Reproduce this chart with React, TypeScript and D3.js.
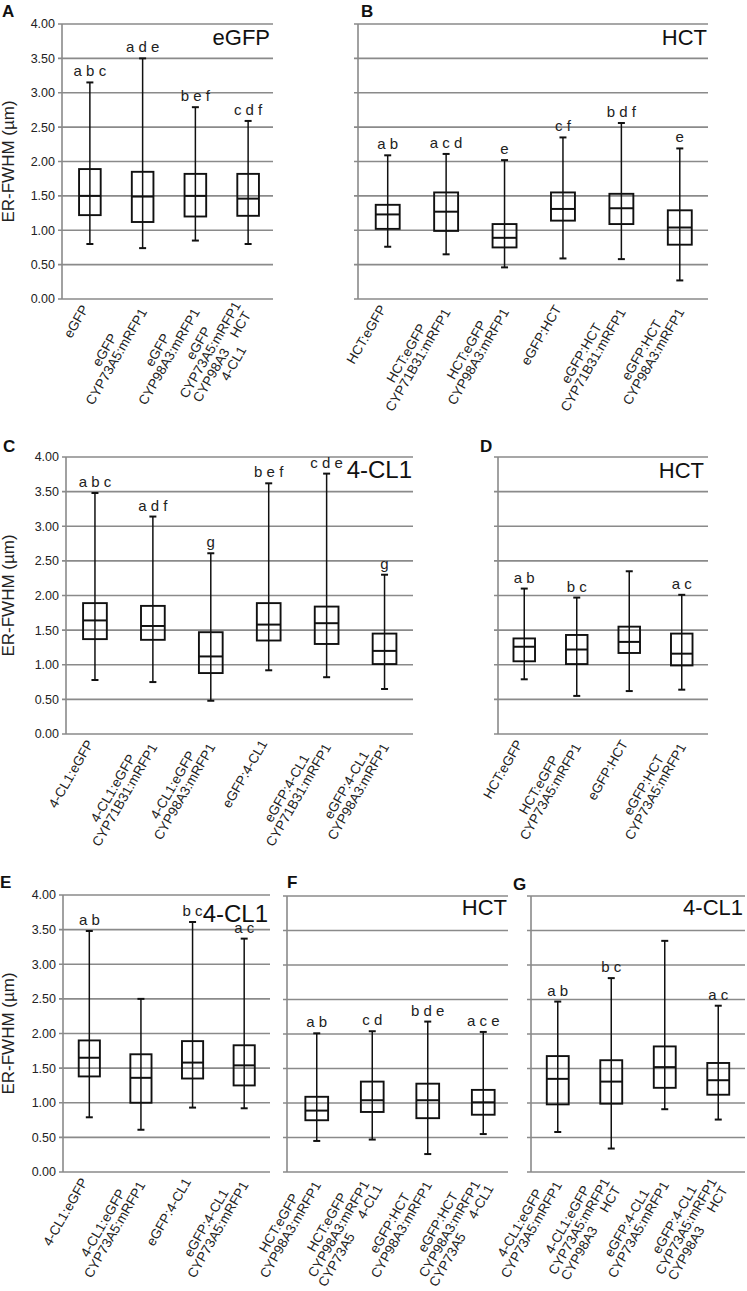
import React from "react";
import * as d3 from "d3";

// ---------------- DATA ----------------
const A_categories = ["eGFP", "eGFP\nCYP73A5:mRFP1", "eGFP\nCYP98A3:mRFP1", "eGFP\nCYP73A5:mRFP1\nCYP98A3    HCT\n4-CL1"];
const A_high = [3.15, 3.5, 2.79, 2.59];
const A_q3 = [1.89, 1.85, 1.82, 1.82];
const A_median = [1.5, 1.49, 1.5, 1.46];
const A_q1 = [1.22, 1.12, 1.2, 1.21];
const A_low = [0.8, 0.74, 0.85, 0.8];
const A_letters = ["a b c", "a d e", "b e f", "c d f"];

const B_categories = ["HCT:eGFP", "HCT:eGFP\nCYP71B31:mRFP1", "HCT:eGFP\nCYP98A3:mRFP1", "eGFP:HCT", "eGFP:HCT\nCYP71B31:mRFP1", "eGFP:HCT\nCYP98A3:mRFP1"];
const B_high = [2.09, 2.11, 2.02, 2.35, 2.56, 2.19];
const B_q3 = [1.37, 1.55, 1.09, 1.55, 1.53, 1.29];
const B_median = [1.23, 1.27, 0.89, 1.31, 1.32, 1.04];
const B_q1 = [1.02, 0.99, 0.75, 1.14, 1.09, 0.79];
const B_low = [0.76, 0.65, 0.46, 0.59, 0.58, 0.27];
const B_letters = ["a b", "a c d", "e", "c f", "b d f", "e"];

const C_categories = ["4-CL1:eGFP", "4-CL1:eGFP\nCYP71B31:mRFP1", "4-CL1:eGFP\nCYP98A3:mRFP1", "eGFP:4-CL1", "eGFP:4-CL1\nCYP71B31:mRFP1", "eGFP:4-CL1\nCYP98A3:mRFP1"];
const C_high = [3.48, 3.14, 2.61, 3.62, 3.76, 2.3];
const C_q3 = [1.89, 1.85, 1.47, 1.89, 1.84, 1.45];
const C_median = [1.64, 1.56, 1.12, 1.58, 1.6, 1.2];
const C_q1 = [1.37, 1.36, 0.88, 1.35, 1.3, 1.01];
const C_low = [0.78, 0.75, 0.48, 0.92, 0.82, 0.65];
const C_letters = ["a b c", "a d f", "g", "b e f", "c d e", "g"];

const D_categories = ["HCT:eGFP", "HCT:eGFP\nCYP73A5:mRFP1", "eGFP:HCT", "eGFP:HCT\nCYP73A5:mRFP1"];
const D_high = [2.1, 1.97, 2.35, 2.01];
const D_q3 = [1.38, 1.43, 1.55, 1.45];
const D_median = [1.26, 1.22, 1.33, 1.16];
const D_q1 = [1.05, 1.01, 1.17, 0.99];
const D_low = [0.79, 0.55, 0.62, 0.64];
const D_letters = ["a b", "b c", "", "a c"];

const E_categories = ["4-CL1:eGFP", "4-CL1:eGFP\nCYP73A5:mRFP1", "eGFP:4-CL1", "eGFP:4-CL1\nCYP73A5:mRFP1"];
const E_high = [3.48, 2.5, 3.61, 3.37];
const E_q3 = [1.9, 1.7, 1.89, 1.83];
const E_median = [1.65, 1.36, 1.58, 1.54];
const E_q1 = [1.38, 1.0, 1.35, 1.25];
const E_low = [0.79, 0.61, 0.93, 0.92];
const E_letters = ["a b", "", "b c", "a c"];

const F_categories = ["HCT:eGFP\nCYP98A3:mRFP1", "HCT:eGFP\nCYP98A3:mRFP1\nCYP73A5     4-CL1", "eGFP:HCT\nCYP98A3:mRFP1", "eGFP:HCT\nCYP98A3:mRFP1\nCYP73A5     4-CL1"];
const F_high = [2.01, 2.04, 2.18, 2.03];
const F_q3 = [1.09, 1.31, 1.28, 1.19];
const F_median = [0.89, 1.04, 1.04, 1.01];
const F_q1 = [0.75, 0.87, 0.78, 0.83];
const F_low = [0.45, 0.47, 0.26, 0.55];
const F_letters = ["a b", "c d", "b d e", "a c e"];

const G_categories = ["4-CL1:eGFP\nCYP73A5:mRFP1", "4-CL1:eGFP\nCYP73A5:mRFP1\nCYP98A3     HCT", "eGFP:4-CL1\nCYP73A5:mRFP1", "eGFP:4-CL1\nCYP73A5:mRFP1\nCYP98A3     HCT"];
const G_high = [2.47, 2.81, 3.35, 2.41];
const G_q3 = [1.68, 1.62, 1.82, 1.58];
const G_median = [1.35, 1.31, 1.52, 1.33];
const G_q1 = [0.98, 0.99, 1.22, 1.12];
const G_low = [0.58, 0.34, 0.91, 0.76];
const G_letters = ["a b", "b c", "", "a c"];

const yTicks = [0, 0.5, 1, 1.5, 2, 2.5, 3, 3.5, 4];
const yLabel = "ER-FWHM (µm)";

// ---------------- LAYOUT ----------------
const FONT = '"Liberation Sans", Arial, Helvetica, sans-serif';
const GRID = "#8a8a8a";

type Panel = {
  letter: string; title: string; cats: string[]; high: number[]; q3: number[]; med: number[]; q1: number[]; low: number[]; letters: string[];
  axisX: number; bandL: number; bandR: number; gridR: number; yTop: number; yBot: number;
  letterX: number; letterY: number; titleSize: number; titleX: number; titleY: number; showTicks: boolean;
};

const panels: Panel[] = [
  { letter: "A", title: "eGFP", cats: A_categories, high: A_high, q3: A_q3, med: A_median, q1: A_q1, low: A_low, letters: A_letters,
    axisX: 62, bandL: 63.5, bandR: 274.5, gridR: 273, yTop: 24, yBot: 299, letterX: 2, letterY: 17, titleSize: 22, titleX: 270, titleY: 45, showTicks: true },
  { letter: "B", title: "HCT", cats: B_categories, high: B_high, q3: B_q3, med: B_median, q1: B_q1, low: B_low, letters: B_letters,
    axisX: 358, bandL: 358.5, bandR: 709, gridR: 708, yTop: 24, yBot: 299, letterX: 361, letterY: 17, titleSize: 22, titleX: 707, titleY: 45, showTicks: false },
  { letter: "C", title: "4-CL1", cats: C_categories, high: C_high, q3: C_q3, med: C_median, q1: C_q1, low: C_low, letters: C_letters,
    axisX: 66, bandL: 66, bandR: 413.5, gridR: 413, yTop: 457, yBot: 734, letterX: 3, letterY: 452, titleSize: 24, titleX: 412, titleY: 478, showTicks: true },
  { letter: "D", title: "HCT", cats: D_categories, high: D_high, q3: D_q3, med: D_median, q1: D_q1, low: D_low, letters: D_letters,
    axisX: 498, bandL: 498, bandR: 708, gridR: 708, yTop: 457, yBot: 734, letterX: 480, letterY: 452, titleSize: 22, titleX: 704, titleY: 478, showTicks: false },
  { letter: "E", title: "4-CL1", cats: E_categories, high: E_high, q3: E_q3, med: E_median, q1: E_q1, low: E_low, letters: E_letters,
    axisX: 63, bandL: 63.5, bandR: 270, gridR: 270, yTop: 895, yBot: 1172, letterX: 0, letterY: 888, titleSize: 24, titleX: 268, titleY: 922, showTicks: true },
  { letter: "F", title: "HCT", cats: F_categories, high: F_high, q3: F_q3, med: F_median, q1: F_q1, low: F_low, letters: F_letters,
    axisX: 287, bandL: 289, bandR: 511, gridR: 508, yTop: 896, yBot: 1172, letterX: 287, letterY: 888, titleSize: 22, titleX: 507, titleY: 915, showTicks: false },
  { letter: "G", title: "4-CL1", cats: G_categories, high: G_high, q3: G_q3, med: G_median, q1: G_q1, low: G_low, letters: G_letters,
    axisX: 531, bandL: 531, bandR: 745, gridR: 745, yTop: 896, yBot: 1172, letterX: 513, letterY: 890, titleSize: 22, titleX: 743, titleY: 915, showTicks: false },
];

let ctx: CanvasRenderingContext2D | null = null;
function textWidth(s: string, size: number): number {
  if (!ctx) ctx = document.createElement("canvas").getContext("2d");
  if (!ctx) return s.length * size * 0.55;
  ctx.font = `${size}px "Liberation Sans", Arial, sans-serif`;
  return ctx.measureText(s).width;
}

const LABEL_SIZE = 13.5;
const LH = 13.5;

function PanelView({ p }: { p: Panel }) {
  const y = d3.scaleLinear().domain([0, 4]).range([p.yBot, p.yTop]);
  const x = d3.scaleBand<number>().domain(p.cats.map((_, i) => i)).range([p.bandL, p.bandR]);
  const bw = x.bandwidth() * 0.41;
  const fmt = d3.format(".2f");
  const cap = 3.5;
  return (
    <g>
      {yTicks.map((t) => (
        <g key={t}>
          <line x1={p.axisX - 4} x2={p.gridR} y1={y(t)} y2={y(t)} stroke={GRID} strokeWidth={1.6} />
          {p.showTicks && (
            <text x={p.axisX - 7} y={y(t)} dy="0.35em" textAnchor="end" fontSize={12.5} fill="#222">{fmt(t)}</text>
          )}
        </g>
      ))}
      <line x1={p.axisX} x2={p.axisX} y1={p.yTop} y2={p.yBot} stroke={GRID} strokeWidth={1.6} />
      {p.showTicks && (
        <text transform={`translate(14,${(p.yTop + p.yBot) / 2}) rotate(-90)`} textAnchor="middle" fontSize={17} fill="#222">{yLabel}</text>
      )}
      <text x={p.letterX} y={p.letterY} fontSize={17} fontWeight="bold" fill="#111">{p.letter}</text>
      <text x={p.titleX} y={p.titleY} textAnchor="end" fontSize={p.titleSize} fill="#111">{p.title}</text>
      {p.cats.map((c, i) => {
        const cx = (x(i) as number) + x.bandwidth() / 2;
        const lines = c.split("\n");
        const n = lines.length;
        const maxW = Math.max(...lines.map((l) => textWidth(l, LABEL_SIZE)));
        return (
          <g key={i}>
            <line x1={cx} x2={cx} y1={y(p.high[i])} y2={y(p.low[i])} stroke="#111" strokeWidth={1.5} />
            <line x1={cx - cap} x2={cx + cap} y1={y(p.high[i])} y2={y(p.high[i])} stroke="#111" strokeWidth={2} />
            <line x1={cx - cap} x2={cx + cap} y1={y(p.low[i])} y2={y(p.low[i])} stroke="#111" strokeWidth={2} />
            <rect x={cx - bw / 2} y={y(p.q3[i])} width={bw} height={y(p.q1[i]) - y(p.q3[i])} fill="none" stroke="#111" strokeWidth={1.9} />
            <line x1={cx - bw / 2} x2={cx + bw / 2} y1={y(p.med[i])} y2={y(p.med[i])} stroke="#111" strokeWidth={2} />
            {p.letters[i] && (
              <text x={cx} y={y(p.high[i]) - 6} textAnchor="middle" fontSize={15} fill="#222">{p.letters[i]}</text>
            )}
            <g transform={`translate(${cx - 1},${p.yBot + 9.5}) rotate(-60)`}>
              {lines.map((l, j) => (
                <text key={j} x={-maxW / 2} y={(j - (n - 1) / 2) * LH} textAnchor="middle" fontSize={LABEL_SIZE} fill="#222" xmlSpace="preserve" style={{ whiteSpace: "pre" }}>{l}</text>
              ))}
            </g>
          </g>
        );
      })}
    </g>
  );
}

export default function App() {
  return (
    <div style={{ position: "absolute", left: 0, top: 0 }}>
      <svg width={747} height={1291} style={{ display: "block", fontFamily: FONT }}>
        <rect width={747} height={1291} fill="#fff" />
        {panels.map((p) => (
          <PanelView key={p.letter} p={p} />
        ))}
      </svg>
    </div>
  );
}
